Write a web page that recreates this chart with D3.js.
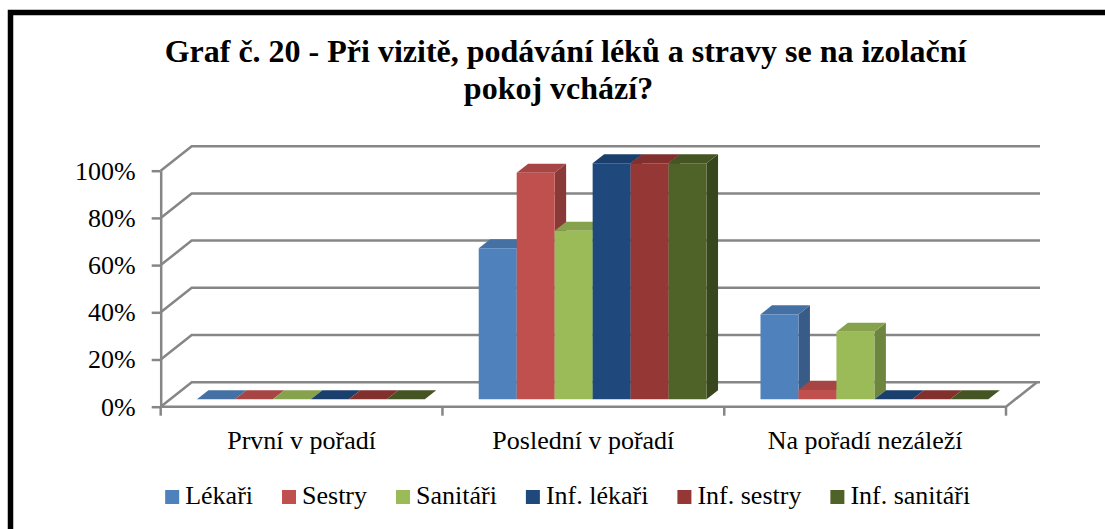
<!DOCTYPE html>
<html>
<head>
<meta charset="utf-8">
<script src="https://cdn.jsdelivr.net/npm/d3@7"></script>
<style>
  html, body { margin: 0; padding: 0; background: #fff; }
  svg { display: block; }
</style>
</head>
<body>
<svg id="chart" width="1105" height="529"></svg>
<script>
// ---- data ----
const categories = ["První v pořadí", "Poslední v pořadí", "Na pořadí nezáleží"];
const seriesNames = ["Lékaři", "Sestry", "Sanitáři", "Inf. lékaři", "Inf. sestry", "Inf. sanitáři"];
const lekari      = [0, 0.64, 0.36];
const sestry      = [0, 0.96, 0.04];
const sanitari    = [0, 0.714, 0.286];
const infLekari   = [0, 1.00, 0];
const infSestry   = [0, 1.00, 0];
const infSanitari = [0, 1.00, 0];
const yTicks = [0, 0.2, 0.4, 0.6, 0.8, 1.0];
const titleLines = ["Graf č. 20 - Při vizitě, podávání léků a stravy se na izolační", "pokoj vchází?"];

const seriesValues = [lekari, sestry, sanitari, infLekari, infSestry, infSanitari];
const colors = ["#4F81BD", "#C0504D", "#9BBB59", "#1F497D", "#953735", "#4F6228"];

// ---- layout ----
const svg = d3.select("#chart");
const FONT = "'Liberation Serif', 'Times New Roman', serif";
const DX = 31, DY = 24.5;            // depth projection
const P = (x, y, d) => [x + d * DX, y - d * DY];
const D_FRONT = 0.3, D_BACK = 0.67;  // bar depth range
const gridColor = "#868686";

const y = d3.scaleLinear().domain([0, 1]).range([406.7, 170.7]);
const x0 = d3.scaleBand().domain(categories).range([160.7, 1006]).padding(0);
const x1 = d3.scaleBand().domain(seriesNames).range([0, x0.bandwidth()]).paddingOuter(0.71).paddingInner(0);

// border
svg.append("path")
  .attr("d", "M10.5,535 V12.5 H1110")
  .attr("fill", "none").attr("stroke", "#000").attr("stroke-width", 5.5);

// title
svg.append("g").selectAll("text").data(titleLines).join("text")
  .attr("x", (d, i) => i === 0 ? 565.5 : 558.5)
  .attr("y", (d, i) => 61.5 + i * 37)
  .attr("text-anchor", "middle")
  .attr("font-family", FONT).attr("font-weight", "bold").attr("font-size", 32)
  .attr("fill", "#000")
  .text(d => d);

// gridlines (back wall + left side wall)
const line = d3.line();
const gridG = svg.append("g").attr("fill", "none").attr("stroke", gridColor).attr("stroke-width", 2.5);
gridG.selectAll("path.grid").data(yTicks).join("path").attr("class", "grid")
  .attr("d", t => line([P(x0.range()[0], y(t), 0), P(x0.range()[0], y(t), 1), P(x0.range()[1] + 3, y(t), 1)]));
// floor right edge & front edge
gridG.append("path")
  .attr("d", line([P(x0.range()[0], y(0), 0), P(x0.range()[1], y(0), 0), P(x0.range()[1], y(0), 1)]));

// y axis
const yAxis = d3.axisLeft(y).tickValues(yTicks).tickFormat(d3.format(".0%"))
  .tickSize(9).tickPadding(16).tickSizeOuter(0);
const yG = svg.append("g").attr("transform", `translate(${x0.range()[0]},0)`).call(yAxis);
yG.select(".domain").attr("stroke", gridColor).attr("stroke-width", 2.5);
yG.selectAll(".tick line").attr("stroke", gridColor).attr("stroke-width", 2.5);
yG.selectAll("text").attr("font-family", FONT).attr("font-size", 26).attr("fill", "#000");

// x axis
const xAxis = d3.axisBottom(x0).tickSize(0).tickPadding(0);
const xG = svg.append("g").attr("transform", `translate(0,${y(0)})`).call(xAxis);
xG.select(".domain").remove();
xG.selectAll("text").attr("font-family", FONT).attr("font-size", 26).attr("fill", "#000")
  .attr("dy", null).attr("y", 42.3);
// category separators
const bounds = categories.map(c => x0(c)).concat([x0.range()[1]]);
svg.append("g").selectAll("line").data(bounds).join("line")
  .attr("x1", d => d).attr("x2", d => d)
  .attr("y1", y(0)).attr("y2", y(0) + 9)
  .attr("stroke", gridColor).attr("stroke-width", 2.5);

// bars
const barsG = svg.append("g");
categories.forEach((cat, ci) => {
  seriesNames.forEach((s, si) => {
    const v = seriesValues[si][ci];
    const xl = x0(cat) + x1(s);
    const xr = xl + x1.bandwidth();
    const yb = y(0), yt = y(v);
    const base = d3.color(colors[si]);
    const g = barsG.append("g");
    // side face
    g.append("path")
      .attr("d", line([P(xr, yt, D_FRONT), P(xr, yt, D_BACK), P(xr, yb, D_BACK), P(xr, yb, D_FRONT)]) + "Z")
      .attr("fill", base.darker(0.95).formatHex());
    // top face
    g.append("path")
      .attr("d", line([P(xl, yt, D_FRONT), P(xl, yt, D_BACK), P(xr, yt, D_BACK), P(xr, yt, D_FRONT)]) + "Z")
      .attr("fill", base.darker(0.4).formatHex());
    // front face
    g.append("path")
      .attr("d", line([P(xl, yt, D_FRONT), P(xr, yt, D_FRONT), P(xr, yb, D_FRONT), P(xl, yb, D_FRONT)]) + "Z")
      .attr("fill", base.formatHex());
  });
});

// legend
const legend = svg.append("g").attr("font-family", FONT).attr("font-size", 26);
const items = legend.selectAll("g").data(seriesNames).join("g");
items.append("rect").attr("width", 14).attr("height", 14).attr("y", -14).attr("fill", (d, i) => colors[i]);
items.append("text").attr("x", 20).attr("y", 0).attr("fill", "#000").text(d => d);
let cx = 0;
const offsets = [];
items.each(function () {
  offsets.push(cx);
  const w = d3.select(this).select("text").node().getComputedTextLength();
  cx += 20 + w + 29;
});
const totalW = cx - 29;
const startX = 567.7 - totalW / 2;
items.attr("transform", (d, i) => `translate(${startX + offsets[i]},504)`);
</script>
</body>
</html>
